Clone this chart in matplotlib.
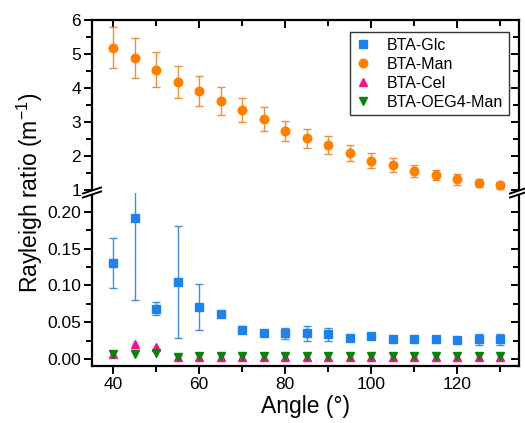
import numpy as np
import matplotlib
matplotlib.use('Agg')
import matplotlib.pyplot as plt
from matplotlib.lines import Line2D
from matplotlib.ticker import MultipleLocator

plt.rcParams['font.family'] = ['Liberation Sans', 'DejaVu Sans']
plt.rcParams['mathtext.fontset'] = 'custom'
plt.rcParams['mathtext.rm'] = 'Liberation Sans'
plt.rcParams['mathtext.it'] = 'Liberation Sans:italic'

############################### Datos ###############################
angle = [40, 45, 50, 55, 60, 65, 70, 75, 80, 85, 90, 95, 100, 105, 110, 115, 120, 125, 130]

man     = [5.18, 4.88, 4.54, 4.18, 3.91, 3.62, 3.36, 3.09, 2.74, 2.52, 2.32, 2.09, 1.86, 1.74, 1.57, 1.44, 1.31, 1.21, 1.14]
man_err = [0.60, 0.58, 0.52, 0.47, 0.43, 0.40, 0.35, 0.34, 0.30, 0.28, 0.26, 0.24, 0.22, 0.21, 0.18, 0.16, 0.15, 0.12, 0.11]

glc     = [0.131, 0.191, 0.0686, 0.105, 0.071, 0.061, 0.040, 0.036, 0.035, 0.035, 0.034, 0.029, 0.031, 0.027, 0.027, 0.027, 0.026, 0.027, 0.027]
glc_err = [0.034, 0.110, 0.009, 0.076, 0.031, 0.004, 0.005, 0.002, 0.007, 0.010, 0.009, 0.002, 0.002, 0.002, 0.002, 0.002, 0.002, 0.0075, 0.0075]

cel     = [0.007, 0.021, 0.016, 0.0035, 0.003, 0.003, 0.003, 0.003, 0.003, 0.003, 0.003, 0.003, 0.003, 0.003, 0.003, 0.003, 0.003, 0.003, 0.003]
oeg     = [0.007, 0.007, 0.0085, 0.0035, 0.005, 0.004, 0.004, 0.004, 0.005, 0.005, 0.005, 0.004, 0.004, 0.004, 0.005, 0.005, 0.004, 0.004, 0.004]

names = ['BTA-Glc', 'BTA-Man', 'BTA-Cel', 'BTA-OEG4-Man']

c_glc = '#1F82EC'
c_man = '#FF8000'
c_cel = '#F0168A'
c_oeg = '#0A8010'

############################### Figura ###############################
W, H = 525, 423
fig = plt.figure(figsize=[W/100, H/100], dpi=100)

x0, x1 = 92, 519
y_top, y_brk, y_bot = 20, 193, 366
axU = fig.add_axes([x0/W, 1-y_brk/H, (x1-x0)/W, (y_brk-y_top)/H])
axL = fig.add_axes([x0/W, 1-y_bot/H, (x1-x0)/W, (y_bot-y_brk)/H])

### Panel superior
axU.errorbar(angle, man, yerr=man_err, fmt='o', color=c_man, ms=6.2, mec=c_man,
             ecolor='#E8913C', elinewidth=1.0, capsize=3, capthick=1.0)
axU.set_ylim(0.912, 6)
axU.yaxis.set_major_locator(MultipleLocator(1))
axU.yaxis.set_minor_locator(MultipleLocator(0.5))

### Panel inferior
axL.errorbar(angle, glc, yerr=glc_err, fmt='s', color=c_glc, ms=5.2, mec=c_glc,
             ecolor='#4A8AD0', elinewidth=1.0, capsize=3, capthick=1.0)
axL.plot(angle, cel, '^', color=c_cel, ms=6.2, mec=c_cel)
axL.plot(angle, oeg, 'v', color=c_oeg, ms=6.2, mec=c_oeg)
axL.set_ylim(-0.0091, 0.2253)
axL.yaxis.set_major_locator(MultipleLocator(0.05))
axL.yaxis.set_minor_locator(MultipleLocator(0.025))
axL.yaxis.set_major_formatter(matplotlib.ticker.FormatStrFormatter('%.2f'))

for ax in (axU, axL):
    ax.set_xlim(35.1, 134.4)
    ax.xaxis.set_major_locator(MultipleLocator(20))
    ax.xaxis.set_minor_locator(MultipleLocator(10))
    for s in ax.spines.values():
        s.set_linewidth(1.6)
    ax.tick_params(which='both', width=1.4, labelsize=12.5, pad=2)
    ax.tick_params(which='major', length=6)
    ax.tick_params(which='minor', length=4)
    ax.tick_params(axis='y', which='both', left=True, right=True, labelright=False)

axU.spines['bottom'].set_visible(False)
axL.spines['top'].set_visible(False)
axU.tick_params(axis='x', which='both', bottom=False, labelbottom=False, top=True, direction='in')
axL.tick_params(axis='x', which='both', top=False, direction='out')
# izquierda hacia afuera, derecha hacia adentro
for ax in (axU, axL):
    for t in ax.yaxis.get_major_ticks() + ax.yaxis.get_minor_ticks():
        t.tick1line.set_marker(matplotlib.lines.TICKLEFT)
        t.tick2line.set_marker(matplotlib.lines.TICKLEFT)

axL.set_xlabel('Angle (°)', fontsize=16.5, labelpad=2)
fig.text(30/W, 1-193/H, r'Rayleigh ratio (m$^{-1}$)', rotation=90,
         ha='center', va='center', fontsize=16.5)

### Marcas de corte del eje
for xc in (x0, x1):
    cy = y_brk
    gap = [[xc-9, cy+4.5], [xc+9, cy-1.5], [xc+9, cy-5.5], [xc-9, cy+0.5]]
    fig.patches.append(plt.Polygon([[p[0]/W, 1-p[1]/H] for p in gap], closed=True,
                                   transform=fig.transFigure, fc='white', ec='none', zorder=10))
    for dy in (-2.0, 2.0):
        fig.add_artist(Line2D([(xc-9)/W, (xc+9)/W], [1-(cy+2.5+dy)/H, 1-(cy-3.5+dy)/H],
                              transform=fig.transFigure, color='k', lw=1.4, zorder=11))

### Leyenda
handles = [Line2D([], [], ls='none', marker='s', color=c_glc, ms=5.2),
           Line2D([], [], ls='none', marker='o', color=c_man, ms=6.2),
           Line2D([], [], ls='none', marker='^', color=c_cel, ms=6.2),
           Line2D([], [], ls='none', marker='v', color=c_oeg, ms=6.2)]
leg = axU.legend(handles, names, loc='upper right', bbox_to_anchor=((509-x0)/(x1-x0), 1-(32-y_top)/(y_brk-y_top)),
                 fontsize=11.5, frameon=True, fancybox=False, edgecolor='k',
                 labelspacing=0.25, handlelength=1.0, handletextpad=1.0, borderpad=0.35,
                 borderaxespad=0)
leg.get_frame().set_linewidth(1.0)

fig.savefig('out.png', dpi=100)
